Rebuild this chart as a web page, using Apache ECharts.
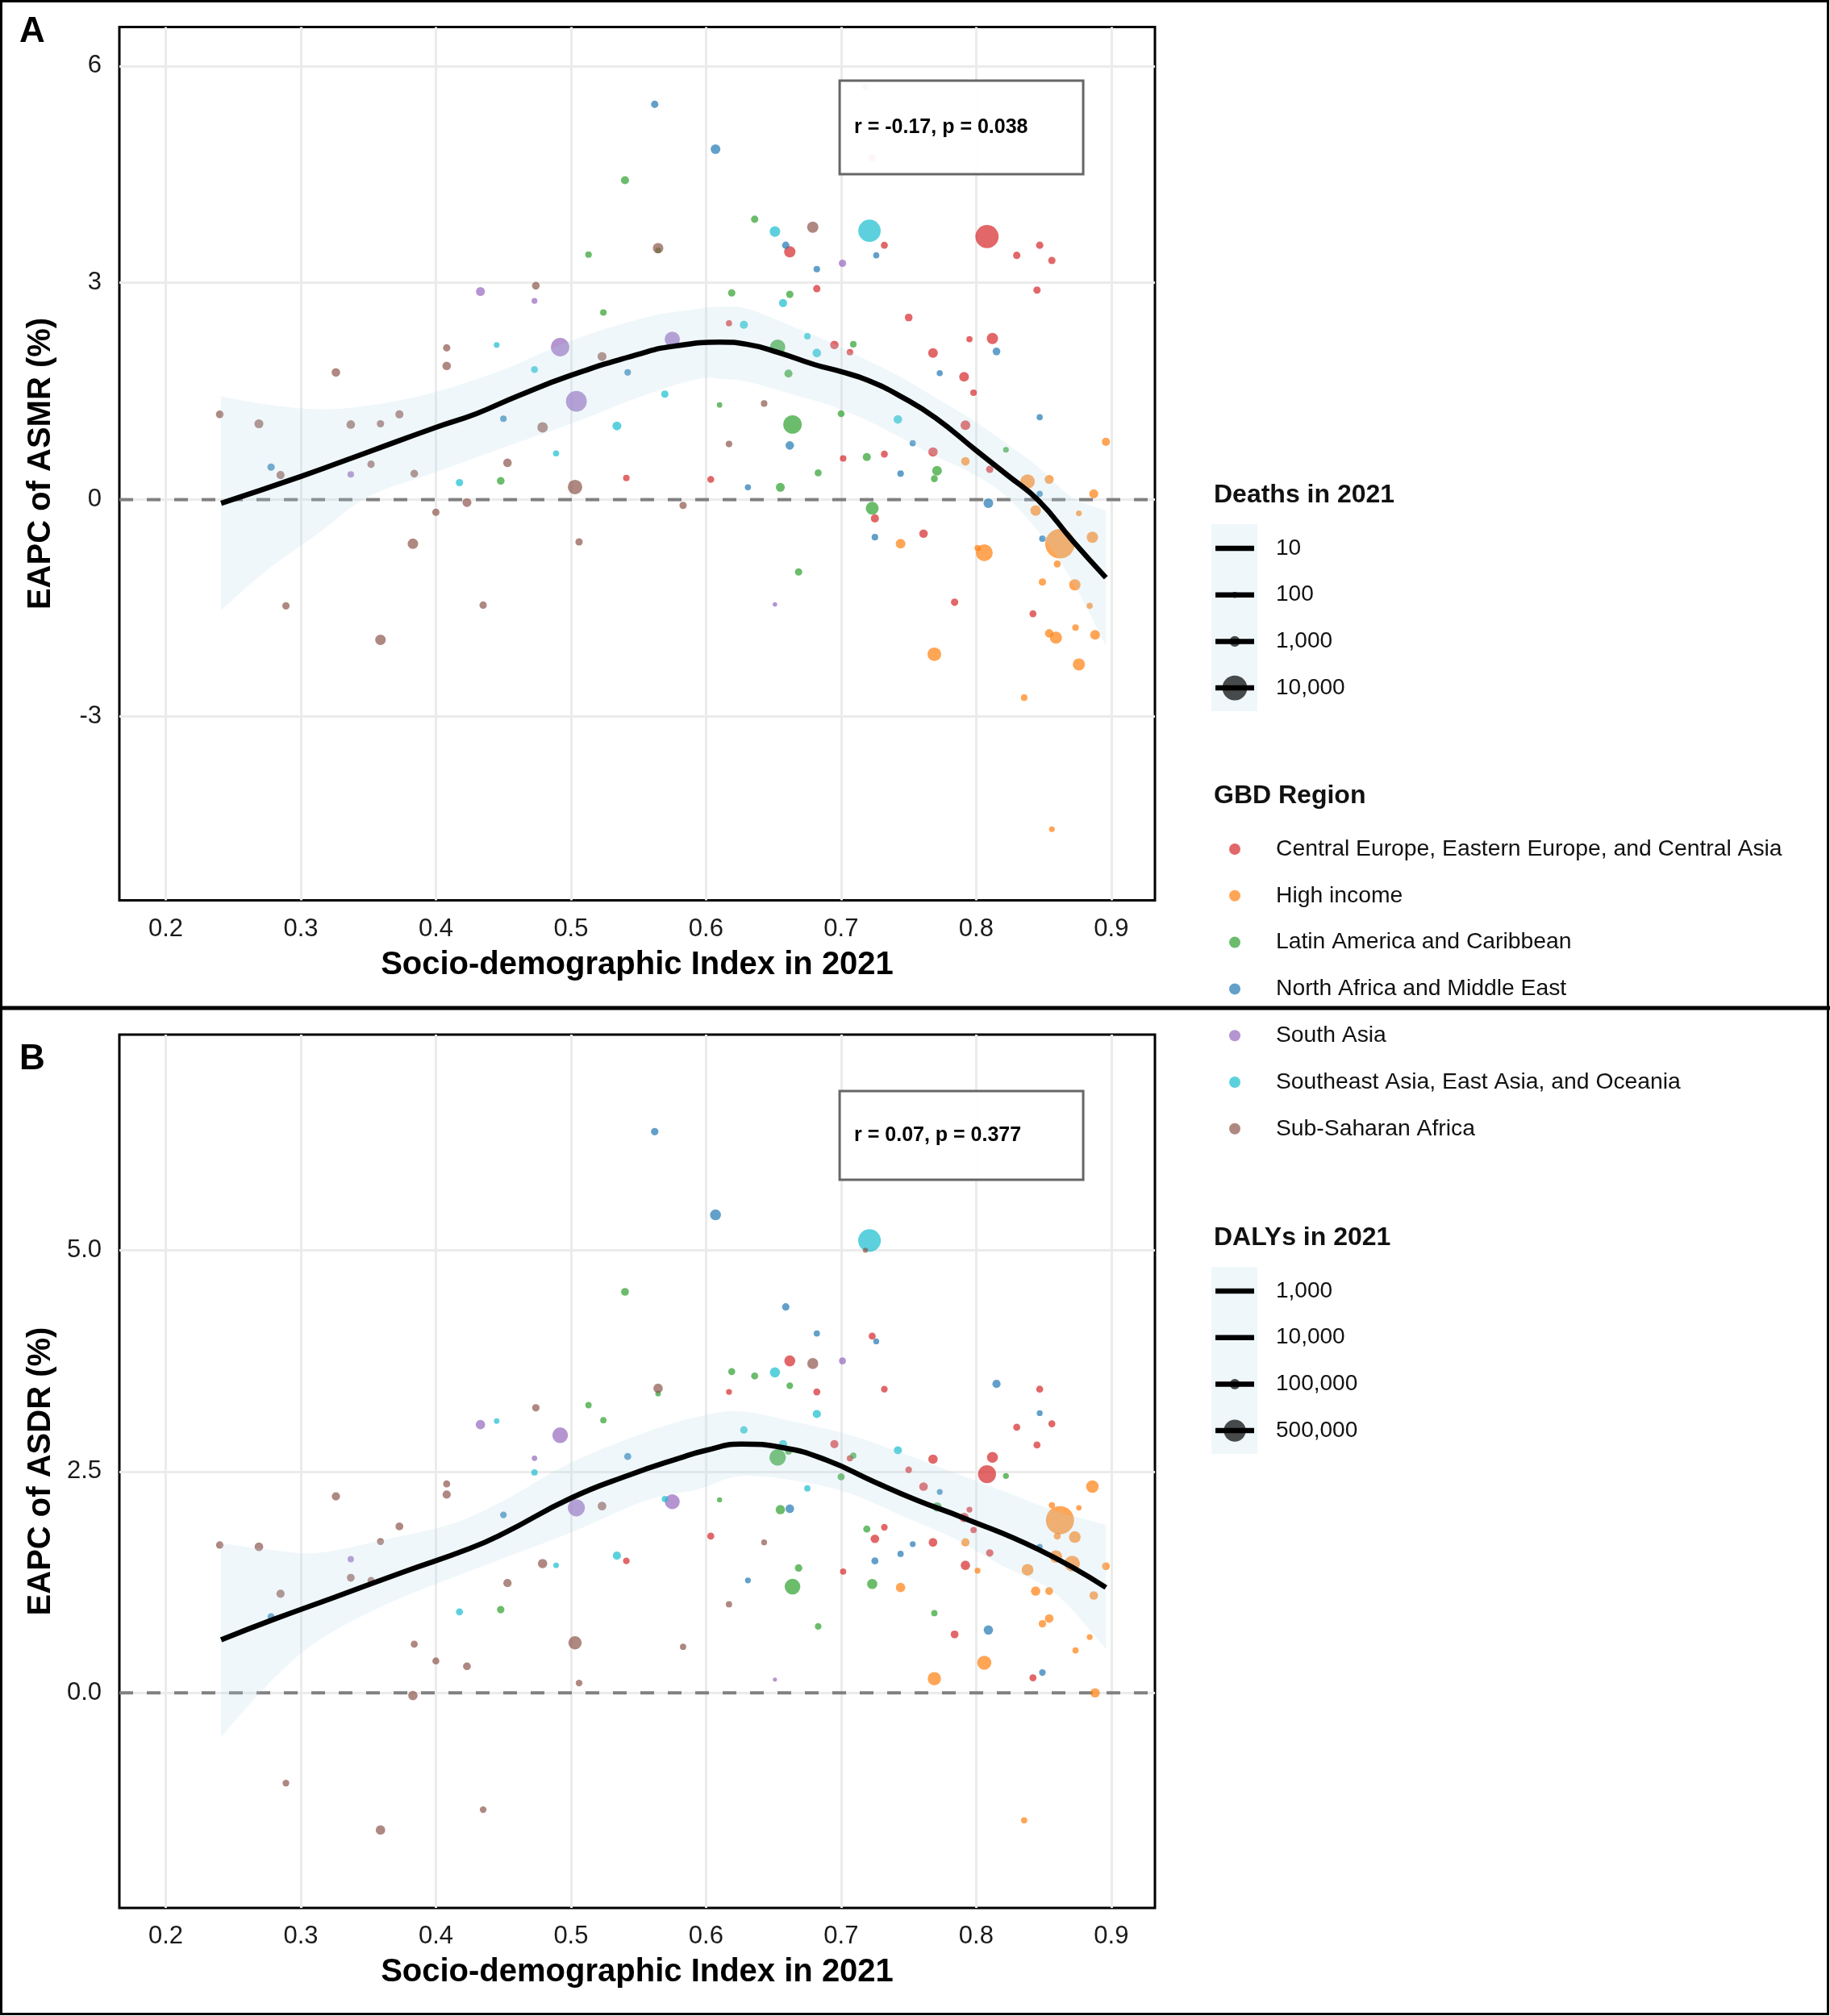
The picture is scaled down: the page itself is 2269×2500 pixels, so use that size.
<!DOCTYPE html>
<html><head><meta charset="utf-8">
<script src="https://cdn.jsdelivr.net/npm/echarts@6/dist/echarts.min.js"></script>
<style>html,body{margin:0;padding:0;background:#fff}#c{width:2269px;height:2500px}</style>
</head><body><div id="c"></div><script>
const FONT = 'Liberation Sans, Arial, Helvetica, sans-serif';

// ---------- axes ----------
const xMin = 0.1657, xMax = 0.9323;
const yMinA = -5.545, yMaxA = 6.54;
const yMinB = -2.43, yMaxB = 7.436;
const xTicks = [0.2, 0.3, 0.4, 0.5, 0.6, 0.7, 0.8, 0.9];
const xTickLabels = ['0.2', '0.3', '0.4', '0.5', '0.6', '0.7', '0.8', '0.9'];
const yTicksA = [-3, 0, 3, 6];
const yTickLabelsA = ['-3', '0', '3', '6'];
const yTicksB = [0, 2.5, 5];
const yTickLabelsB = ['0.0', '2.5', '5.0'];

// ---------- regions ----------
const regionNames = ['Central Europe, Eastern Europe, and Central Asia', 'High income', 'Latin America and Caribbean',
  'North Africa and Middle East', 'South Asia', 'Southeast Asia, East Asia, and Oceania', 'Sub-Saharan Africa'];
const regionColors = ['#d62728', '#ff7f0e', '#2ca02c', '#1f77b4', '#9467bd', '#17becf', '#8c564b'];

// ---------- panel A: [SDI, EAPC of ASMR, deaths] ----------
const ceA = [[0.662,3.43,1224],[0.732,3.52,198],[0.808,3.64,8470],[0.847,3.52,255],[0.830,3.38,255],[0.856,3.31,255],[0.682,2.92,255],[0.845,2.90,255],[0.750,2.52,319],[0.617,2.44,105],[0.695,2.14,470],[0.7065,2.04,148],[0.768,2.03,750],[0.795,2.22,105],[0.812,2.23,1224],[0.798,1.48,148],[0.791,1.70,750],[0.792,1.03,750],[0.7015,0.57,148],[0.732,0.63,198],[0.768,0.66,649],[0.810,0.42,255],[0.541,0.30,148],[0.6035,0.28,198],[0.725,-0.26,391],[0.761,-0.47,470],[0.784,-1.42,255],[0.842,-1.58,198],[0.723,4.73,255]];
const hiA = [[0.896,0.80,391],[0.792,0.53,470],[0.838,0.25,2519],[0.854,0.28,556],[0.887,0.08,556],[0.744,-0.61,750],[0.844,-0.15,972],[0.876,-0.19,70],[0.862,-0.61,15000],[0.801,-0.67,105],[0.806,-0.735,3794],[0.886,-0.52,1224],[0.860,-0.89,198],[0.849,-1.14,255],[0.873,-1.18,1224],[0.884,-1.47,105],[0.854,-1.85,470],[0.859,-1.91,1504],[0.8735,-1.77,148],[0.888,-1.87,750],[0.769,-2.14,2152],[0.876,-2.28,1504],[0.8355,-2.74,148],[0.856,-4.56,70]];
const laA = [[0.540,4.42,391],[0.513,3.39,148],[0.524,2.59,148],[0.636,3.88,255],[0.5645,3.45,70],[0.619,2.86,255],[0.662,2.84,255],[0.653,2.11,2915],[0.709,2.15,148],[0.661,1.745,391],[0.610,1.31,42],[0.664,1.04,4790],[0.700,1.19,198],[0.719,0.59,391],[0.822,0.69,70],[0.771,0.40,750],[0.683,0.37,198],[0.448,0.26,319],[0.655,0.17,556],[0.769,0.29,198],[0.723,-0.12,1813],[0.6685,-1.00,255]];
const naA = [[0.562,5.47,255],[0.607,4.85,750],[0.659,3.52,255],[0.726,3.38,105],[0.682,3.19,148],[0.815,2.05,319],[0.773,1.75,105],[0.542,1.76,148],[0.450,1.12,148],[0.278,0.45,255],[0.847,1.14,105],[0.662,0.75,470],[0.753,0.78,105],[0.744,0.36,148],[0.631,0.17,105],[0.847,0.08,105],[0.725,-0.52,148],[0.809,-0.05,750],[0.849,-0.54,148]];
const saA = [[0.433,2.88,556],[0.473,2.75,70],[0.492,2.11,4790],[0.504,1.36,6500],[0.575,2.22,2915],[0.701,3.27,255],[0.337,0.35,148],[0.651,-1.45,5]];
const seA = [[0.651,3.71,972],[0.721,3.72,7780],[0.657,2.72,391],[0.628,2.42,391],[0.675,2.26,148],[0.682,2.03,470],[0.445,2.14,70],[0.473,1.80,198],[0.5695,1.46,255],[0.534,1.02,556],[0.489,0.64,105],[0.742,1.11,470],[0.4175,0.235,255]];
const ssA = [[0.474,2.96,319],[0.5645,3.48,972],[0.679,3.77,1224],[0.408,2.10,255],[0.523,1.98,556],[0.408,1.85,470],[0.326,1.76,470],[0.240,1.18,319],[0.269,1.05,556],[0.337,1.04,470],[0.359,1.05,255],[0.373,1.18,391],[0.479,1.00,972],[0.453,0.51,470],[0.352,0.49,255],[0.285,0.34,391],[0.384,0.36,319],[0.503,0.175,2519],[0.423,-0.04,556],[0.400,-0.175,255],[0.383,-0.61,972],[0.506,-0.585,255],[0.289,-1.47,255],[0.435,-1.46,255],[0.359,-1.94,972],[0.643,1.33,148],[0.617,0.77,148],[0.583,-0.08,255],[0.718,5.71,148]];

// smooth fit A
const fitAx = [0.241,0.30,0.35,0.40,0.43,0.46,0.50,0.555,0.575,0.61,0.63,0.653,0.68,0.70,0.72,0.745,0.77,0.80,0.823,0.846,0.871,0.896];
const fitAy = [-0.05,0.32,0.66,1.00,1.19,1.43,1.72,2.04,2.12,2.18,2.15,2.04,1.87,1.77,1.65,1.42,1.13,0.68,0.34,-0.01,-0.56,-1.08];
const bandAx = [0.241,0.274,0.312,0.35,0.40,0.45,0.50,0.555,0.594,0.611,0.631,0.669,0.694,0.72,0.745,0.77,0.795,0.82,0.846,0.871,0.896];
const bandAup = [1.43,1.32,1.25,1.30,1.49,1.80,2.20,2.52,2.64,2.67,2.64,2.36,2.16,1.92,1.69,1.41,1.13,0.81,0.45,0.03,-0.15];
const bandAlo = [-1.53,-0.99,-0.48,0.04,0.38,0.72,1.05,1.45,1.67,1.67,1.63,1.43,1.29,1.09,0.85,0.60,0.38,0.08,-0.44,-1.12,-2.02];

// ---------- panel B: [SDI, EAPC of ASDR, DALYs] ----------
const ceB = [[0.723,4.03,43400],[0.662,3.75,114600],[0.617,3.40,28700],[0.682,3.40,43400],[0.732,3.43,38100],[0.847,3.43,43400],[0.830,3.00,43400],[0.856,3.04,43400],[0.845,2.80,43400],[0.695,2.81,61200],[0.7065,2.65,33200],[0.768,2.64,82000],[0.812,2.66,114600],[0.808,2.47,328000],[0.750,2.52,38100],[0.761,2.33,67800],[0.795,2.07,28700],[0.791,1.98,82000],[0.798,1.84,33200],[0.732,1.87,38100],[0.725,1.74,67800],[0.6035,1.77,43400],[0.768,1.70,67800],[0.810,1.58,49000],[0.792,1.44,82000],[0.7015,1.37,33200],[0.784,0.66,55000],[0.842,0.17,43400],[0.541,1.49,38100]];
const hiB = [[0.886,2.33,152600],[0.856,2.12,33200],[0.876,2.09,24400],[0.862,1.95,831000],[0.860,1.77,43400],[0.873,1.76,133000],[0.859,1.54,152600],[0.871,1.46,245000],[0.896,1.43,55000],[0.792,1.70,61200],[0.801,1.38,28700],[0.838,1.39,133000],[0.744,1.19,82000],[0.844,1.15,82000],[0.854,1.15,55000],[0.887,1.10,67800],[0.854,0.84,67800],[0.849,0.78,49000],[0.884,0.63,28700],[0.8735,0.48,33200],[0.806,0.34,196000],[0.769,0.16,173600],[0.888,0.00,82000],[0.8355,-1.44,33200]];
const laB = [[0.540,4.53,55000],[0.513,3.25,33200],[0.524,3.08,33200],[0.619,3.63,43400],[0.636,3.58,43400],[0.5645,3.38,24400],[0.662,3.47,38100],[0.653,2.66,271000],[0.661,2.73,43400],[0.709,2.68,33200],[0.822,2.45,28700],[0.700,2.44,43400],[0.610,2.18,20500],[0.655,2.07,82000],[0.771,2.10,82000],[0.719,1.85,43400],[0.6685,1.41,49000],[0.664,1.20,245000],[0.723,1.23,97700],[0.769,0.90,33200],[0.683,0.75,38100],[0.448,0.94,49000]];
const naB = [[0.562,6.34,49000],[0.607,5.40,114600],[0.659,4.36,49000],[0.682,4.06,33200],[0.726,3.97,28700],[0.815,3.49,61200],[0.847,3.16,28700],[0.542,2.67,43400],[0.773,2.27,28700],[0.662,2.08,67800],[0.450,2.01,38100],[0.278,0.86,43400],[0.847,1.65,28700],[0.753,1.68,28700],[0.744,1.57,33200],[0.725,1.49,43400],[0.631,1.27,28700],[0.809,0.71,82000],[0.849,0.23,38100]];
const saB = [[0.433,3.03,82000],[0.492,2.91,245000],[0.473,2.65,24400],[0.504,2.09,294000],[0.575,2.16,220000],[0.701,3.75,43400],[0.337,1.51,33200],[0.651,0.15,12000]];
const seB = [[0.721,5.11,532000],[0.651,3.62,97700],[0.682,3.15,61200],[0.628,2.97,49000],[0.657,2.81,61200],[0.742,2.74,61200],[0.675,2.31,33200],[0.5695,2.19,33200],[0.445,3.07,24400],[0.473,2.49,33200],[0.534,1.55,61200],[0.489,1.44,24400],[0.4175,0.915,43400]];
const ssB = [[0.474,3.22,49000],[0.408,2.36,43400],[0.408,2.24,61200],[0.326,2.22,61200],[0.523,2.11,67800],[0.373,1.88,55000],[0.240,1.67,49000],[0.269,1.65,67800],[0.359,1.71,43400],[0.337,1.30,55000],[0.352,1.27,43400],[0.285,1.12,61200],[0.479,1.46,82000],[0.453,1.24,61200],[0.384,0.55,43400],[0.503,0.565,173600],[0.400,0.36,43400],[0.423,0.30,55000],[0.506,0.11,38100],[0.383,-0.03,82000],[0.289,-1.02,38100],[0.435,-1.32,38100],[0.359,-1.55,82000],[0.5645,3.44,82000],[0.679,3.72,114600],[0.718,5.00,20500],[0.643,1.70,28700],[0.617,1.00,33200],[0.583,0.52,33200]];

const fitBx = [0.241,0.28,0.325,0.375,0.425,0.45,0.50,0.543,0.58,0.60,0.626,0.657,0.689,0.725,0.757,0.79,0.846,0.896];
const fitBy = [0.60,0.83,1.08,1.36,1.63,1.80,2.20,2.46,2.65,2.74,2.81,2.77,2.63,2.38,2.17,1.98,1.62,1.19];
const bandBx = [0.241,0.276,0.312,0.362,0.412,0.45,0.50,0.555,0.594,0.626,0.669,0.707,0.745,0.783,0.820,0.858,0.896];
const bandBup = [1.69,1.62,1.58,1.73,1.91,2.17,2.60,2.94,3.12,3.18,3.05,2.91,2.71,2.49,2.28,2.06,1.90];
const bandBlo = [-0.50,0.10,0.58,0.99,1.30,1.52,1.81,2.17,2.30,2.45,2.39,2.25,2.00,1.75,1.43,1.13,0.50];

// ---------- legends / stats ----------
const deathsKeys = [10, 100, 1000, 10000];
const deathsKeyLabels = ['10', '100', '1,000', '10,000'];
const dalysKeys = [1000, 10000, 100000, 500000];
const dalysKeyLabels = ['1,000', '10,000', '100,000', '500,000'];
const statsA = 'r = -0.17, p = 0.038';
const statsB = 'r = 0.07, p = 0.377';

const sizeA = d => 5.0 + 0.258 * Math.sqrt(d);
const sizeB = d => 1.0 + 0.0372 * Math.sqrt(d);
const BAND = 'rgba(173,216,230,0.2)';

function lab(ticks, labels, v) {
  for (let i = 0; i < ticks.length; i++) if (Math.abs(ticks[i] - v) < 1e-9) return labels[i];
  return '';
}

function makeX(gi) {
  return {
    type: 'value', gridIndex: gi, min: xMin, max: xMax,
    name: 'Socio-demographic Index in 2021', nameLocation: 'middle', nameGap: 60, nameMoveOverlap: false,
    nameTextStyle: { fontSize: 40, fontWeight: 'bold', color: '#000', fontFamily: FONT },
    axisLine: { show: false },
    axisTick: { show: false, customValues: xTicks },
    axisLabel: { customValues: xTicks, formatter: v => lab(xTicks, xTickLabels, v), fontSize: 31, color: '#1a1a1a', margin: 20, fontFamily: FONT },
    splitLine: { show: true, lineStyle: { color: '#ebebeb', width: 3 } }
  };
}
function makeY(gi, mn, mx, ticks, labels, name) {
  return {
    type: 'value', gridIndex: gi, min: mn, max: mx,
    name: name, nameLocation: 'middle', nameGap: 77, nameMoveOverlap: false,
    nameTextStyle: { fontSize: 40, fontWeight: 'bold', color: '#000', fontFamily: FONT },
    axisLine: { show: false },
    axisTick: { show: false, customValues: ticks },
    axisLabel: { customValues: ticks, formatter: v => lab(ticks, labels, v), fontSize: 31, color: '#1a1a1a', margin: 22, fontFamily: FONT },
    splitLine: { show: true, lineStyle: { color: '#ebebeb', width: 3 } }
  };
}

// Catmull-Rom -> cubic bezier path segments through pixel points
function bezierThrough(pts, startCmd) {
  let d = startCmd + pts[0][0] + ' ' + pts[0][1];
  for (let i = 0; i < pts.length - 1; i++) {
    const p0 = pts[Math.max(0, i - 1)], p1 = pts[i], p2 = pts[i + 1], p3 = pts[Math.min(pts.length - 1, i + 2)];
    const c1 = [p1[0] + (p2[0] - p0[0]) / 6, p1[1] + (p2[1] - p0[1]) / 6];
    const c2 = [p2[0] - (p3[0] - p1[0]) / 6, p2[1] - (p3[1] - p1[1]) / 6];
    d += ' C' + c1[0] + ' ' + c1[1] + ' ' + c2[0] + ' ' + c2[1] + ' ' + p2[0] + ' ' + p2[1];
  }
  return d;
}

function panelSeries(ai, groups, sizeFn, fx, fy, bx, bup, blo, box, stats) {
  const s = [];
  s.push({ type: 'line', xAxisIndex: ai, yAxisIndex: ai, data: [[xMin, 0], [xMax, 0]], symbol: 'none', silent: true, z: 1,
    lineStyle: { color: '#808080', width: 4, type: [17, 17] } });
  groups.forEach((g, i) => s.push({
    type: 'scatter', name: regionNames[i], xAxisIndex: ai, yAxisIndex: ai, data: g, z: 2, silent: true,
    symbolSize: v => sizeFn(v[2]), itemStyle: { color: regionColors[i], opacity: 0.7 }
  }));
  s.push({ type: 'custom', xAxisIndex: ai, yAxisIndex: ai, z: 3, silent: true,
    data: bx.map((x, i) => [x, bup[i], blo[i]]), encode: { x: 0, y: [1, 2] },
    renderItem: (params, api) => {
      if (params.dataIndex !== 0) return null;
      const up = bx.map((x, i) => api.coord([x, bup[i]]));
      const lo = bx.map((x, i) => api.coord([x, blo[i]])).reverse();
      const d = bezierThrough(up, 'M') + ' L' + lo[0][0] + ' ' + lo[0][1] + bezierThrough(lo, ' L').replace(/^ L[^C]*/, '') + ' Z';
      return { type: 'path', shape: { pathData: d }, style: { fill: BAND } };
    } });
  s.push({ type: 'line', xAxisIndex: ai, yAxisIndex: ai, data: fx.map((x, i) => [x, fy[i]]),
    symbol: 'none', smooth: true, silent: true, z: 4, lineStyle: { color: '#000', width: 6.5 } });
  s.push({ type: 'custom', xAxisIndex: ai, yAxisIndex: ai, z: 10, silent: true, data: [box],
    renderItem: (params, api) => {
      const p1 = api.coord([api.value(0), api.value(1)]);
      const p2 = api.coord([api.value(2), api.value(3)]);
      return { type: 'group', children: [
        { type: 'rect', shape: { x: p1[0], y: p1[1], width: p2[0] - p1[0], height: p2[1] - p1[1] },
          style: { fill: 'rgba(255,255,255,0.94)', stroke: '#666', lineWidth: 3 } },
        { type: 'text', style: { text: stats, x: p1[0] + 18, y: (p1[1] + p2[1]) / 2, fill: '#000',
          font: 'bold 25px ' + FONT, verticalAlign: 'middle', align: 'left' } }
      ] };
    } });
  return s;
}

const series = [].concat(
  panelSeries(0, [ceA, hiA, laA, naA, saA, seA, ssA], sizeA, fitAx, fitAy, bandAx, bandAup, bandAlo, [0.6989, 5.798, 0.8792, 4.504], statsA),
  panelSeries(1, [ceB, hiB, laB, naB, saB, seB, ssB], sizeB, fitBx, fitBy, bandBx, bandBup, bandBlo, [0.6989, 6.798, 0.8792, 5.796], statsB)
);

// ---------- legend graphics ----------
const G = [];
const txt = (t, x, y, size, bold) => ({ type: 'text', style: { text: t, x: x, y: y, fill: '#111',
  font: (bold ? 'bold ' : '') + size + 'px ' + FONT, verticalAlign: 'middle', align: 'left' }, z: 50 });

function sizeLegend(title, titleY, boxY, keys, labels, fn) {
  G.push(txt(title, 1505, titleY, 32, true));
  G.push({ type: 'rect', shape: { x: 1502, y: boxY, width: 57, height: 232 }, style: { fill: BAND }, z: 49 });
  keys.forEach((k, i) => {
    const cy = boxY + 30 + i * 57.7;
    const r = fn(k) / 2;
    G.push({ type: 'circle', shape: { cx: 1531, cy: cy, r: r }, style: { fill: 'rgba(0,0,0,0.7)' }, z: 50 });
    G.push({ type: 'line', shape: { x1: 1507, y1: cy, x2: 1555, y2: cy }, style: { stroke: '#000', lineWidth: 6.5 }, z: 51 });
    G.push(txt(labels[i], 1582, cy, 28, false));
  });
}
sizeLegend('Deaths in 2021', 614, 650, deathsKeys, deathsKeyLabels, sizeA);
G.push(txt('GBD Region', 1505, 987, 32, true));
regionNames.forEach((n, i) => {
  const cy = 1053 + i * 57.8;
  G.push({ type: 'circle', shape: { cx: 1531, cy: cy, r: 7 }, style: { fill: regionColors[i], opacity: 0.7 }, z: 50 });
  G.push(txt(n, 1582, cy, 28.3, false));
});
sizeLegend('DALYs in 2021', 1535, 1571, dalysKeys, dalysKeyLabels, sizeB);

// panel letters, frame, divider
G.push({ type: 'text', style: { text: 'A', x: 24, y: 40, fill: '#000', font: 'bold 44px ' + FONT, verticalAlign: 'middle', align: 'left' }, z: 50 });
G.push({ type: 'text', style: { text: 'B', x: 24, y: 1314, fill: '#000', font: 'bold 44px ' + FONT, verticalAlign: 'middle', align: 'left' }, z: 50 });
G.push({ type: 'rect', shape: { x: 1.5, y: 1.5, width: 2265, height: 2496 }, style: { fill: 'none', stroke: '#000', lineWidth: 3 }, z: 60 });
G.push({ type: 'line', shape: { x1: 0, y1: 1250, x2: 2269, y2: 1250 }, style: { stroke: '#000', lineWidth: 5 }, z: 60 });

const option = {
  backgroundColor: '#fff',
  animation: false,
  textStyle: { fontFamily: FONT },
  grid: [
    { left: 148, top: 33.5, width: 1284, height: 1083, show: true, borderColor: '#000', borderWidth: 3, backgroundColor: 'rgba(0,0,0,0)', containLabel: false, outerBoundsMode: 'none' },
    { left: 148, top: 1283, width: 1284, height: 1083, show: true, borderColor: '#000', borderWidth: 3, backgroundColor: 'rgba(0,0,0,0)', containLabel: false, outerBoundsMode: 'none' }
  ],
  xAxis: [makeX(0), makeX(1)],
  yAxis: [makeY(0, yMinA, yMaxA, yTicksA, yTickLabelsA, 'EAPC of ASMR (%)'), makeY(1, yMinB, yMaxB, yTicksB, yTickLabelsB, 'EAPC of ASDR (%)')],
  legend: { show: false },
  tooltip: { show: false },
  series: series,
  graphic: G
};
const chart = echarts.init(document.getElementById('c'), null, { renderer: 'canvas', width: 2269, height: 2500 });
chart.setOption(option);
</script></body></html>
